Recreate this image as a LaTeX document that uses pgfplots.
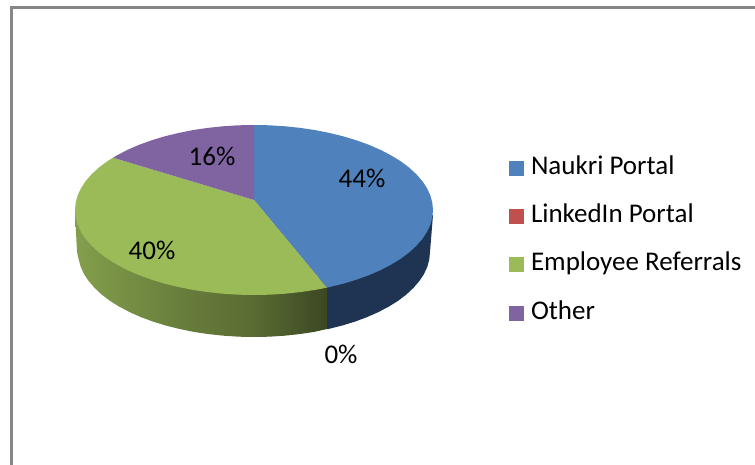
\documentclass[border=0pt]{standalone}
\usepackage{fontspec}
\setmainfont{Carlito}
\usepackage{pgfplots}
\pgfplotsset{compat=1.18}
\definecolor{cblue}{HTML}{4F81BD}
\definecolor{cred}{HTML}{C0504D}
\definecolor{cgreen}{HTML}{9BBB59}
\definecolor{cpurple}{HTML}{8064A2}
\definecolor{cbside}{RGB}{31,52,82}
\definecolor{cframe}{HTML}{868686}
\pgfdeclarehorizontalshading{greenside}{100bp}{
  color(0bp)=(cgreen!85!black);
  color(25bp)=(cgreen!85!black);
  color(33bp)=(cgreen!78!black);
  color(45bp)=(cgreen!68!black);
  color(60bp)=(cgreen!58!black);
  color(70bp)=(cgreen!45!black);
  color(75bp)=(cgreen!38!black);
  color(100bp)=(cgreen!38!black)}
\begin{document}
\begin{tikzpicture}
\path[use as bounding box] (0pt,0pt) rectangle (755pt,465pt);
\begin{axis}[
  at={(0pt,0pt)}, anchor=south west,
  scale only axis, width=755pt, height=465pt,
  xmin=0, xmax=755, ymin=0, ymax=465, y dir=reverse,
  axis lines=none,
  legend image code/.code={\fill[#1] (0pt,-7.5pt) rectangle (15pt,7.5pt);},
  legend cell align=left,
  legend style={draw=none, fill=none, at={(axis cs:509,156.5)}, anchor=north west,
    inner sep=0pt, outer sep=0pt, row sep=24.2pt,
    font=\fontsize{27}{32}\selectfont,
    nodes={inner sep=0pt, outer sep=0pt, text height=18pt, text depth=6pt},
    /tikz/every odd column/.append style={column sep=7pt}},
]
% frame
\addplot[cframe, line width=2.5pt, no markers, forget plot] coordinates {(11.5,465) (11.5,7.5) (755,7.5)};
% side walls
\addplot[draw=none, fill=cbside, no markers, forget plot] coordinates {
 (327,280) (433,215) (430,252) (429.3,259.4) (427.3,266.8) (424,274) (419.3,281.1) (413.4,287.9) (406.4,294.5)
 (398.1,300.8) (388.8,306.6) (378.4,312.1) (367.1,317.1) (355,321.6) (342,325.6) (328.3,329) (327,329)} --cycle;
\addplot[draw=none, shading=greenside, no markers, forget plot] coordinates {
 (327,329) (314.2,331.9) (299.5,334.1) (284.6,335.7) (269.3,336.7) (254,337) (238.7,336.7) (223.4,335.7) (208.5,334.1)
 (193.8,331.9) (179.7,329) (166,325.6) (153,321.6) (140.9,317.1) (129.6,312.1) (119.2,306.6) (109.9,300.8) (101.6,294.5)
 (94.6,287.9) (88.7,281.1) (84,274) (80.7,266.8) (78.7,259.4) (77,252) (75,212) (327,280)} --cycle;
% top faces
\addplot[draw=none, fill=cblue, no markers] coordinates {
 (254,200) (254,125) (269.6,125.3) (285.1,126.3) (300.3,127.9) (315.2,130.1) (329.6,133) (343.5,136.4) (356.7,140.4)
 (369.1,144.9) (380.6,149.9) (391.1,155.4) (400.6,161.2) (409,167.5) (416.2,174.1) (422.2,180.9) (426.9,188) (430.3,195.2)
 (432.3,202.6) (433,210) (432.3,217.4) (430.3,224.8) (426.9,232) (422.2,239.1) (416.2,245.9) (409,252.5) (400.6,258.8)
 (391.1,264.6) (380.6,270.1) (369.1,275.1) (356.7,279.6) (343.5,283.6) (329.6,287) (326.8,287.7)} --cycle;
\addlegendentry{Naukri Portal}
\addplot[draw=none, fill=cred, no markers] coordinates {(254,200) (326.8,287.7)} --cycle;
\addlegendentry{LinkedIn Portal}
\addplot[draw=none, fill=cgreen, no markers] coordinates {
 (254,200) (326.8,287.7) (315.2,289.9) (300.3,292.1) (285.1,293.7) (269.6,294.7) (254,295) (238.4,294.7) (222.9,293.7)
 (207.7,292.1) (192.8,289.9) (178.4,287) (164.5,283.6) (151.3,279.6) (138.9,275.1) (127.4,270.1) (116.9,264.6) (107.4,258.8)
 (99,252.5) (91.8,245.9) (85.8,239.1) (81.1,232) (77.7,224.8) (75.7,217.4) (75,210) (75.7,202.6) (77.7,195.2) (81.1,188)
 (85.8,180.9) (91.8,174.1) (99,167.5) (107.4,161.2) (113,157.7)} --cycle;
\addlegendentry{Employee Referrals}
\addplot[draw=none, fill=cpurple, no markers] coordinates {
 (254,200) (113,157.7) (116.9,155.4) (127.4,149.9) (138.9,144.9) (151.3,140.4) (164.5,136.4) (178.4,133) (192.8,130.1)
 (207.7,127.9) (222.9,126.3) (238.4,125.3) (254,125)} --cycle;
\addlegendentry{Other}
% data labels
\node[font=\fontsize{27}{32}\selectfont, inner sep=0pt] at (axis cs:362,178) {44\%};
\node[font=\fontsize{27}{32}\selectfont, inner sep=0pt] at (axis cs:212,156) {16\%};
\node[font=\fontsize{27}{32}\selectfont, inner sep=0pt] at (axis cs:152,250) {40\%};
\node[font=\fontsize{27}{32}\selectfont, inner sep=0pt] at (axis cs:341,354.5) {0\%};
\end{axis}
\end{tikzpicture}
\end{document}
